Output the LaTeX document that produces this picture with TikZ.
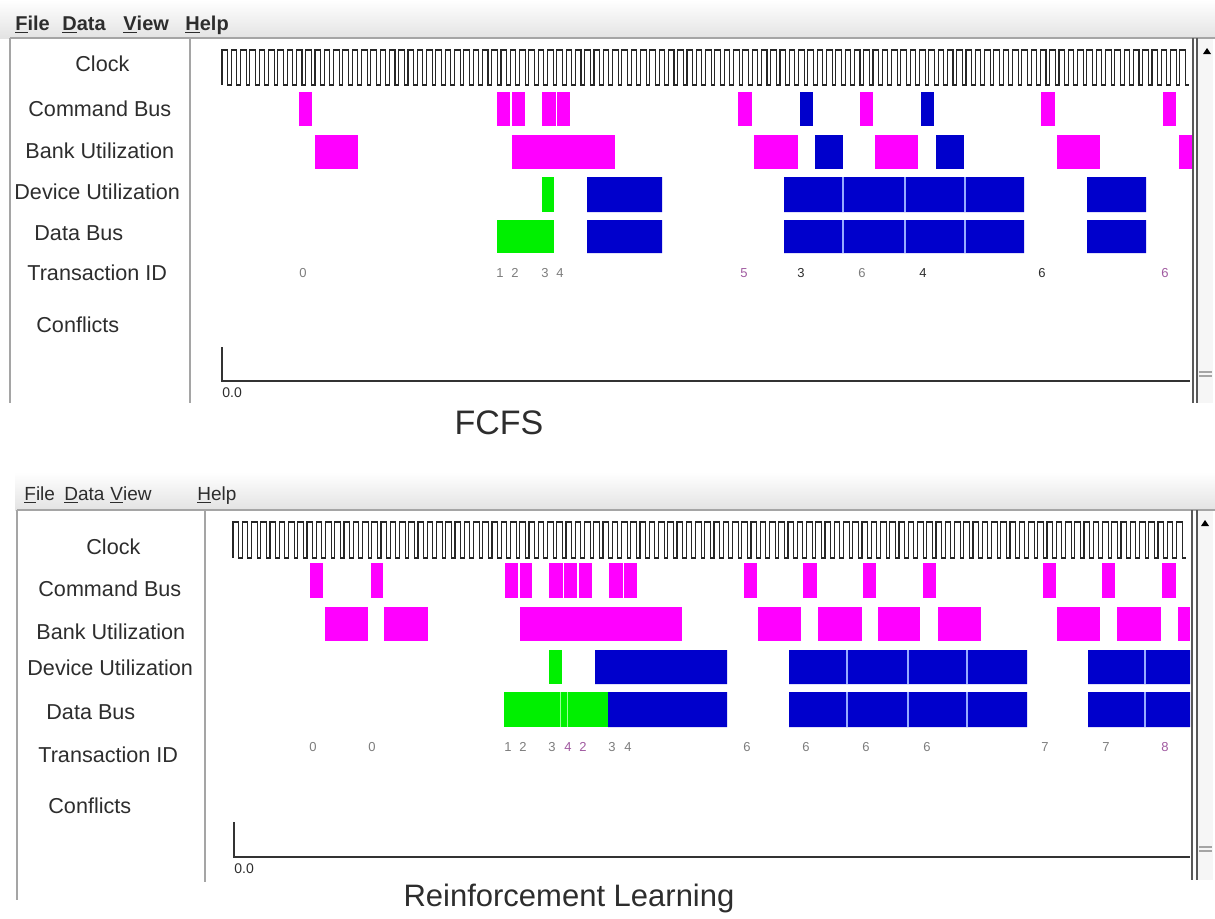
\documentclass[tikz,border=0pt]{standalone}
\usepackage{fontspec}
\setmainfont{Liberation Sans}
\definecolor{colorCmd}{RGB}{255,0,255}
\definecolor{colorRead}{RGB}{0,0,204}
\definecolor{colorWrite}{RGB}{0,240,0}
\definecolor{colorText}{RGB}{45,45,45}
\definecolor{colorId}{RGB}{125,125,125}
\definecolor{colorIdAlt}{RGB}{160,90,160}
\definecolor{colorFrame}{RGB}{165,165,165}
\definecolor{colorSplit}{RGB}{150,170,255}
\usetikzlibrary{positioning}
\tikzset{
  menu/.style={anchor=base west, inner sep=0pt, text=colorText},
  rowname/.style={anchor=west, inner sep=0pt, text=colorText, font=\fontsize{10.8}{13}\selectfont},
  txnid/.style={inner sep=0pt, font=\fontsize{6.5}{8}\selectfont},
  clockwave/.style={draw=black!85, line width=0.55pt},
  frameline/.style={draw=colorFrame, line width=0.6pt},
  axisline/.style={draw=black!80, line width=0.9pt},
  split/.style={draw=colorSplit, line width=0.7pt},
  title/.style={inner sep=0pt, text=colorText},
}

\begin{document}
\begin{tikzpicture}[x=0.5pt, y=-0.5pt]
\useasboundingbox (0,0) rectangle (1215,918);
% FCFS window
\shade[top color=white, bottom color=gray!22] (0,0) rectangle (1215,38);
\draw[frameline] (10,38) -- (1215,38);
\draw[frameline] (10,38) -- (10,403);
\draw[frameline] (190,38) -- (190,403);
\fill[gray!7] (1198,39) rectangle (1213,403);
\draw[frameline, draw=gray!70!black] (1193,38) -- (1193,403) (1197,38) -- (1197,403);
\fill[black] (1203,54) -- (1211,54) -- (1207,48) -- cycle;
\draw[frameline] (1199,372) -- (1212,372) (1199,376) -- (1212,376);
\node[menu, font=\bfseries\fontsize{10}{12}\selectfont] (fileA) at (15,30) {\underline{F}ile};
\node[menu, font=\bfseries\fontsize{10}{12}\selectfont] (dataMenuA) at (62,30) {\underline{D}ata};
\node[menu, font=\bfseries\fontsize{10}{12}\selectfont] (viewA) at (123,30) {\underline{V}iew};
\node[menu, font=\bfseries\fontsize{10}{12}\selectfont] (helpA) at (185,30) {\underline{H}elp};
\node[rowname] (clockA) at (75,64) {Clock};
\node[rowname] (cmdA) at (28,109) {Command Bus};
\node[rowname] (bankA) at (25,151) {Bank Utilization};
\node[rowname] (devA) at (14,192) {Device Utilization};
\node[rowname] (dataA) at (34,233) {Data Bus};
\node[rowname] (txnA) at (27,273) {Transaction ID};
\node[rowname] (confA) at (36,325) {Conflicts};
\draw[clockwave] (222,85) foreach \i in {1,...,104} { -- ++(0,-35) -- ++(5.6,0) -- ++(0,35) -- ++(3.7,0) };
\foreach \a/\b in {299/312,497/510,511.5/525,542/555.5,557/570,738/752,860/873,1041/1055,1163/1176}
  \fill[colorCmd] (\a,92) rectangle (\b,126);
\foreach \a/\b in {800/813,921/934}
  \fill[colorRead] (\a,92) rectangle (\b,126);
\foreach \a/\b in {315/358,512/615,754/798,875/918,1057/1100,1179/1192}
  \fill[colorCmd] (\a,135) rectangle (\b,169);
\foreach \a/\b in {815/843,936/964}
  \fill[colorRead] (\a,135) rectangle (\b,169);
\fill[colorWrite] (542,177) rectangle (554,212);
\fill[colorWrite] (497,220) rectangle (554,253);
\foreach \a/\b in {587/662,784/1024,1087/1146}
  \fill[colorRead] (\a,177) rectangle (\b,212) (\a,220) rectangle (\b,253);
\foreach \x in {843,905,965}
  \draw[split] (\x,177) -- (\x,212) (\x,220) -- (\x,253);
\foreach \x/\d/\c [count=\k] in {303/0/colorId,500/1/colorId,515/2/colorId,545/3/colorId,560/4/colorId,744/5/colorIdAlt,801/3/colorText,862/6/colorId,923/4/colorText,1042/6/colorText,1165/6/colorIdAlt}
  \node[txnid, text=\c] (idA\k) at (\x,273) {\d};
\draw[axisline] (222,347) -- (222,381) -- (1190,381);
\node[txnid, anchor=west, text=colorText, font=\fontsize{7}{8}\selectfont] (zeroA) at (222,393) {0.0};
\node[title, font=\fontsize{17}{20}\selectfont] (titleA) at (499,423) {FCFS};
% Reinforcement Learning window
\shade[top color=white, bottom color=gray!22] (15,472) rectangle (1215,510);
\draw[frameline] (17,510) -- (1215,510);
\draw[frameline] (17,510) -- (17,900);
\draw[frameline] (205,510) -- (205,882);
\fill[gray!7] (1198,511) rectangle (1213,880);
\draw[frameline, draw=gray!70!black] (1192,510) -- (1192,880) (1197,510) -- (1197,880);
\fill[black] (1201,526) -- (1209,526) -- (1205,520) -- cycle;
\draw[frameline] (1199,847) -- (1212,847) (1199,851) -- (1212,851);
\node[menu, font=\fontsize{9.5}{11}\selectfont] (fileB) at (24,500) {\underline{F}ile};
\node[menu, font=\fontsize{9.5}{11}\selectfont] (dataMenuB) at (64,500) {\underline{D}ata};
\node[menu, font=\fontsize{9.5}{11}\selectfont] (viewB) at (110,500) {\underline{V}iew};
\node[menu, font=\fontsize{9.5}{11}\selectfont] (helpB) at (197,500) {\underline{H}elp};
\node[rowname] (clockB) at (86,547) {Clock};
\node[rowname] (cmdB) at (38,589) {Command Bus};
\node[rowname] (bankB) at (36,632) {Bank Utilization};
\node[rowname] (devB) at (27,668) {Device Utilization};
\node[rowname] (dataB) at (46,712) {Data Bus};
\node[rowname] (txnB) at (38,755) {Transaction ID};
\node[rowname] (confB) at (48,806) {Conflicts};
\draw[clockwave] (233,558) foreach \i in {1,...,103} { -- ++(0,-36) -- ++(5.6,0) -- ++(0,36) -- ++(3.65,0) };
\foreach \a/\b in {310/323,371/383,505/518,519.5/532,549/562.5,564/577,578.5/592,609/622.5,624/637,744/757,803/817,863/876,923/936,1043/1056,1102/1115,1162/1176}
  \fill[colorCmd] (\a,563) rectangle (\b,598);
\foreach \a/\b in {325/368,384/428,520/682,758/801,818/862,878/920,938/981,1057/1100,1117/1161,1178/1190}
  \fill[colorCmd] (\a,607) rectangle (\b,641);
\fill[colorWrite] (549,650) rectangle (562,684);
\fill[colorWrite] (504,692) rectangle (608,727);
\fill[colorRead] (595,650) rectangle (727,684) (608,692) rectangle (727,727);
\foreach \a/\b in {789/1027,1088/1190}
  \fill[colorRead] (\a,650) rectangle (\b,684) (\a,692) rectangle (\b,727);
\foreach \x in {847,908,967,1145}
  \draw[split] (\x,650) -- (\x,684) (\x,692) -- (\x,727);
\foreach \x in {560,567}
  \draw[draw=green!40!white, line width=0.5pt] (\x,692) -- (\x,727);
\foreach \x/\d/\c [count=\k] in {313/0/colorId,372/0/colorId,508/1/colorId,523/2/colorId,552/3/colorId,568/4/colorIdAlt,583/2/colorIdAlt,612/3/colorId,628/4/colorId,747/6/colorId,806/6/colorId,866/6/colorId,927/6/colorId,1045/7/colorId,1106/7/colorId,1165/8/colorIdAlt}
  \node[txnid, text=\c] (idB\k) at (\x,747) {\d};
\draw[axisline] (234,822) -- (234,857) -- (1190,857);
\node[txnid, anchor=west, text=colorText, font=\fontsize{7}{8}\selectfont] (zeroB) at (234,869) {0.0};
\node[title, font=\fontsize{15.5}{18}\selectfont] (titleB) at (569,898) {Reinforcement Learning};
\end{tikzpicture}
\end{document}
